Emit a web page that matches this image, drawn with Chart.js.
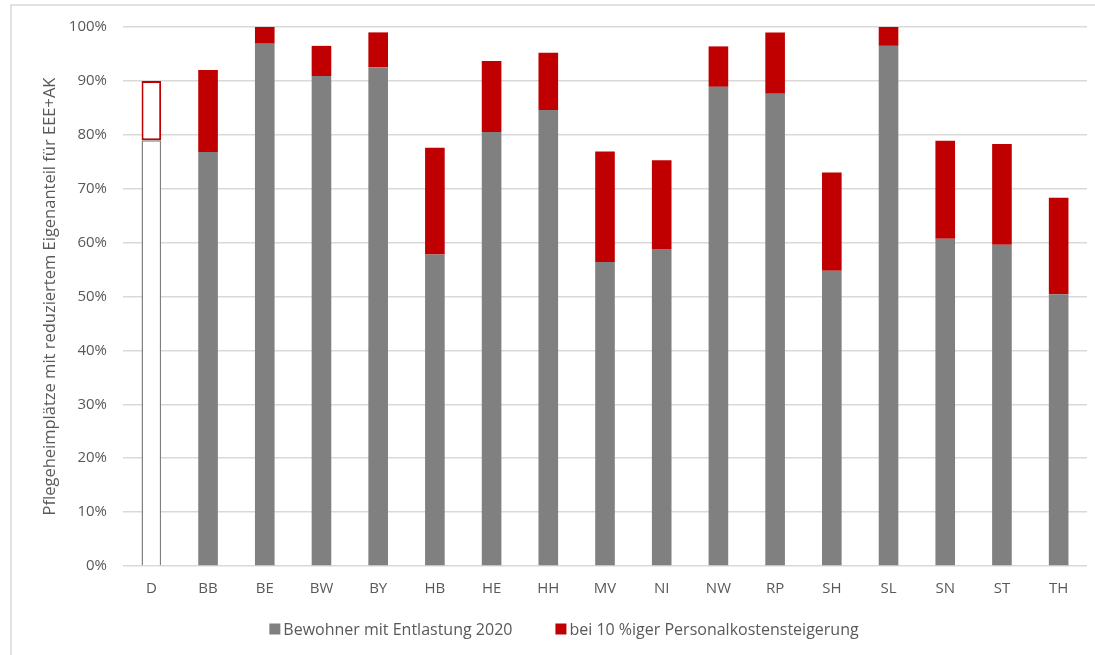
<!DOCTYPE html>
<html>
<head>
<meta charset="utf-8">
<script src="https://cdn.jsdelivr.net/npm/chart.js@4.4.1/dist/chart.umd.min.js"></script>
<style>
  html, body { margin: 0; padding: 0; background: #ffffff; }
  #wrap { position: relative; width: 1095px; height: 655px; }
</style>
</head>
<body>
<div id="wrap"><canvas id="c" width="1095" height="655"></canvas></div>
<script>
const categories = ["D","BB","BE","BW","BY","HB","HE","HH","MV","NI","NW","RP","SH","SL","SN","ST","TH"];
const baseValues = [79.0, 76.8, 96.9, 90.9, 92.5, 57.8, 80.5, 84.6, 56.4, 58.8, 88.9, 87.6, 54.8, 96.5, 60.7, 59.6, 50.4];
const extraValues = [11.0, 15.2, 3.1, 5.6, 6.5, 19.8, 13.2, 10.6, 20.5, 16.5, 7.5, 11.4, 18.2, 3.5, 18.2, 18.7, 17.9];
const seriesNames = ["Bewohner mit Entlastung 2020", "bei 10 %iger Personalkostensteigerung"];
const yTicks = [0, 10, 20, 30, 40, 50, 60, 70, 80, 90, 100];
const axisTitle = "Pflegeheimplätze mit reduziertem Eigenanteil für EEE+AK";

const GRAY = "#808080";
const RED = "#C00000";
const TEXT = "#595959";
const FONT = "'Open Sans', 'Noto Sans', sans-serif";

const framePlugin = {
  id: "frame",
  beforeDraw(chart) {
    const ctx = chart.ctx;
    ctx.save();
    ctx.fillStyle = "#ffffff";
    ctx.fillRect(0, 0, chart.width, chart.height);
    ctx.strokeStyle = "#d9d9d9";
    ctx.lineWidth = 1.5;
    ctx.beginPath();
    ctx.moveTo(11, chart.height);
    ctx.lineTo(11, 5);
    ctx.lineTo(chart.width, 5);
    ctx.stroke();
    ctx.restore();
  }
};

// Bottom legend drawn from the datasets (compact Excel-like spacing)
const legendPlugin = {
  id: "customLegend",
  afterDraw(chart) {
    const ctx = chart.ctx;
    const colors = [GRAY, RED];
    const box = 11, gap = 3, itemGap = 43, cy = 629, cx = 564;
    ctx.save();
    ctx.font = "16px " + FONT;
    ctx.textBaseline = "middle";
    ctx.textAlign = "left";
    const widths = chart.data.datasets.map(ds => ctx.measureText(ds.label).width);
    let total = 0;
    widths.forEach((w, i) => { total += box + gap + w + (i < widths.length - 1 ? itemGap : 0); });
    let x = cx - total / 2;
    chart.data.datasets.forEach((ds, i) => {
      ctx.fillStyle = colors[i];
      ctx.fillRect(x, cy - box / 2, box, box);
      ctx.fillStyle = TEXT;
      ctx.fillText(ds.label, x + box + gap, cy + 1);
      x += box + gap + widths[i] + itemGap;
    });
    ctx.restore();
  }
};

new Chart(document.getElementById("c"), {
  type: "bar",
  data: {
    labels: categories,
    datasets: [
      {
        label: seriesNames[0],
        data: baseValues,
        backgroundColor: (c) => c.dataIndex === 0 ? "#ffffff" : GRAY,
        borderColor: GRAY,
        borderWidth: (c) => c.dataIndex === 0 ? 1.5 : 0,
        borderSkipped: "start",
        barPercentage: 0.346,
        categoryPercentage: 1.0
      },
      {
        label: seriesNames[1],
        data: extraValues,
        backgroundColor: (c) => c.dataIndex === 0 ? "#ffffff" : RED,
        borderColor: RED,
        borderWidth: (c) => c.dataIndex === 0 ? 2 : 0,
        borderSkipped: false,
        barPercentage: 0.346,
        categoryPercentage: 1.0
      }
    ]
  },
  options: {
    responsive: false,
    animation: false,
    devicePixelRatio: 1,
    layout: { padding: { left: 40, right: 8, top: 27, bottom: 0 } },
    plugins: {
      legend: { display: false },
      tooltip: { enabled: false }
    },
    scales: {
      x: {
        stacked: true,
        grid: { display: false, drawTicks: false },
        border: { display: false },
        ticks: { font: { family: FONT, size: 15 }, color: TEXT, padding: 14, maxRotation: 0 },
        afterFit: (s) => { s.height = 89; }
      },
      y: {
        stacked: true,
        min: 0,
        max: 100,
        afterBuildTicks: (s) => { s.ticks = yTicks.map(v => ({ value: v })); },
        grid: { color: "#d9d9d9", lineWidth: 1.5, drawTicks: false },
        border: { display: false },
        ticks: {
          font: { family: FONT, size: 15 },
          color: TEXT,
          padding: 16,
          callback: (v) => v + "%"
        },
        title: {
          display: true,
          text: axisTitle,
          font: { family: FONT, size: 16.5 },
          color: TEXT,
          padding: { top: 0, bottom: 8 }
        },
        afterFit: (s) => { s.width = 83; }
      }
    }
  },
  plugins: [framePlugin, legendPlugin]
});
</script>
</body>
</html>
